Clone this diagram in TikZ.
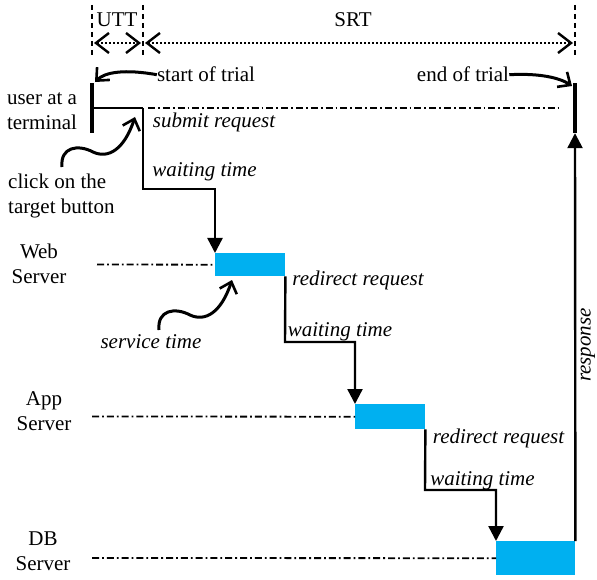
\documentclass[tikz,border=0pt]{standalone}
\usepackage{fontspec}
\setmainfont{Liberation Serif}
\usetikzlibrary{arrows.meta}
\definecolor{srvblue}{RGB}{0,176,240}
\begin{document}
\begin{tikzpicture}[x=1pt,y=-1pt,
  lbl/.style={inner sep=0pt, font=\fontsize{21}{25}\selectfont, align=center},
  itl/.style={inner sep=0pt, font=\fontsize{21}{25}\selectfont\itshape},
  srvbox/.style={fill=srvblue, draw=none, inner sep=0pt, anchor=north west},
  tbar/.style={fill=black, draw=none, inner sep=0pt, minimum width=4.5pt, minimum height=50pt},
  dashdot/.style={line width=1.8pt, dash pattern=on 7pt off 3pt on 1.8pt off 3pt},
  vdash/.style={line width=2.2pt, dash pattern=on 5pt off 4pt},
  barb/.tip={Straight Barb[length=13pt,width=20pt,line width=2.4pt]},
  dotarrow/.style={line width=2.2pt, dash pattern=on 2pt off 2pt, barb-barb},
  flow/.style={line width=2.4pt, -{Triangle[length=15pt,width=15pt]}},
  plain/.style={line width=2.4pt},
  curly/.style={line width=3pt, -{Straight Barb[length=10pt,width=18pt,line width=2.6pt]}}
]
\useasboundingbox (0,0) rectangle (597,580);

% top markers
\coordinate (v1t) at (92,5);  \coordinate (v1b) at (92,55);
\coordinate (v2t) at (143,5); \coordinate (v2b) at (143,55);
\coordinate (v3t) at (575,5); \coordinate (v3b) at (575,55);
\draw[vdash] (v1t) -- (v1b);
\draw[vdash] (v2t) -- (v2b);
\draw[vdash] (v3t) -- (v3b);
\coordinate (u1) at (94,43); \coordinate (u2) at (141,43);
\coordinate (s1) at (145,43); \coordinate (s2) at (573,43);
\draw[dotarrow] (u1) -- (u2);
\draw[dotarrow] (s1) -- (s2);
\node[lbl, anchor=base] (utt) at (117,27) {UTT};
\node[lbl, anchor=base] (srt) at (353,27) {SRT};

% user terminal
\node[tbar] (ubar) at (92,108) {};
\node[tbar] (ebar) at (575,108) {};
\node[lbl] (user) at (42,111) {user at a\\terminal};
\node[lbl, anchor=base] (start) at (206,82) {start of trial};
\node[lbl, anchor=base] (end) at (463,82) {end of trial};
\coordinate (stip) at (95,82);
\coordinate (etip) at (572,86);
\draw[curly] (start.west) .. controls (125,69) and (105,72) .. (stip);
\draw[curly] (end.east) .. controls (540,73) and (560,78) .. (etip);

\coordinate (sub) at (143,108);
\coordinate (dd1a) at (148,108); \coordinate (dd1b) at (558,108);
\draw[plain] (ubar.center) -- (sub);
\draw[dashdot] (dd1a) -- (dd1b);
\node[itl, anchor=base] (submit) at (214,128) {submit request};

% servers
\node[srvbox, minimum width=70pt, minimum height=23pt] (web) at (215,253) {};
\node[srvbox, minimum width=70pt, minimum height=25pt] (app) at (355,404) {};
\node[srvbox, minimum width=79pt, minimum height=34pt] (db) at (496,541) {};

\node[lbl] (weblbl) at (39,263.5) {Web\\Server};
\node[lbl] (applbl) at (44,411.5) {App\\Server};
\node[lbl] (dblbl) at (43,551.5) {DB\\Server};

\coordinate (wl) at (97,264.5);
\coordinate (al) at (92,416.5);
\coordinate (dl) at (92,558);
\draw[dashdot] (wl) -- (web.west);
\draw[dashdot] (al) -- (app.west);
\draw[dashdot] (dl) -- (db.west);

% steps
\coordinate (w1) at (143,189);
\coordinate (w2) at (285,342);
\coordinate (w3) at (425,490);
\draw[flow] (sub) -- (w1) -| (web.north west);
\draw[flow] (web.south east) -- (w2) -| (app.north west);
\draw[flow] (app.south east) -- (w3) -| (db.north west);
\draw[flow] (db.north east) -- (ebar.south);

\node[itl, anchor=base] (wait1) at (204.5,177) {waiting time};
\node[itl, anchor=base] (redir1) at (358,285) {redirect request};
\node[itl, anchor=base] (wait2) at (340,336) {waiting time};
\node[itl, anchor=base] (redir2) at (498.5,443) {redirect request};
\node[itl, anchor=base] (wait3) at (482.5,485) {waiting time};
\node[itl, rotate=90] (resp) at (588,345) {response};

% annotations
\node[lbl, align=left, anchor=west] (click) at (8,196) {click on the\\target button};
\node[itl, anchor=base] (serv) at (151,348) {service time};
\coordinate (ctail) at (62,167);
\coordinate (ctip) at (135,117);
\coordinate (stail) at (159,330);
\coordinate (stip2) at (232,280);
\draw[curly] (ctail) .. controls (60,147) and (78,144) .. (93,152) .. controls (108,159) and (124,150) .. (ctip);
\draw[curly] (stail) .. controls (157,310) and (175,307) .. (190,315) .. controls (205,322) and (221,313) .. (stip2);
\end{tikzpicture}
\end{document}
